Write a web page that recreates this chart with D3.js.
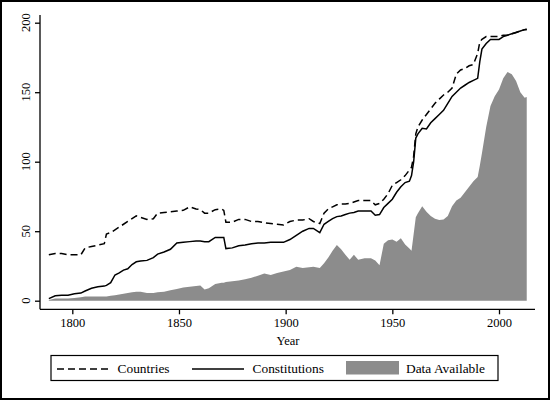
<!DOCTYPE html>
<html>
<head>
<meta charset="utf-8">
<script src="https://cdn.jsdelivr.net/npm/d3@7"></script>
<style>
  body { margin: 0; background: #fff; }
  svg { display: block; }
  text { font-family: "Liberation Serif", "Times New Roman", serif; fill: #000; }
</style>
</head>
<body>
<svg id="chart" width="550" height="400"></svg>
<script>

// values
var years = [1789, 1792, 1795, 1798, 1801, 1804, 1806, 1809, 1812, 1815, 1816, 1818, 1820, 1822,
    1824, 1826, 1828, 1830, 1832, 1835, 1838, 1840, 1843, 1846, 1849, 1852, 1855, 1858, 1860,
    1862, 1864, 1867, 1870, 1871, 1872, 1875, 1878, 1881, 1884, 1887, 1890, 1893, 1896, 1899,
    1902, 1905, 1908, 1911, 1913, 1916, 1918, 1920, 1922, 1924, 1926, 1928, 1930, 1932, 1934,
    1937, 1940, 1942, 1944, 1946, 1948, 1950, 1952, 1954, 1956, 1958, 1959, 1960, 1961, 1962,
    1964, 1966, 1968, 1970, 1972, 1974, 1976, 1978, 1980, 1982, 1984, 1986, 1988, 1990, 1991,
    1992, 1994, 1996, 1998, 2000, 2002, 2004, 2006, 2008, 2010, 2012, 2013];

var countries = [33, 34, 34, 33, 33, 33, 38, 39, 40, 41, 48, 49, 51, 53,
    55, 57, 59, 61, 60, 58.5, 59, 63, 63.5, 64, 64.5, 65, 67.5, 66, 65.5,
    63, 63, 65.5, 66, 65, 56.5, 56.5, 58.5, 58.5, 57, 57, 56, 55.5, 55, 54.5,
    57, 58, 58, 59, 57, 55.5, 63, 66, 67.5, 69, 69.5, 69.5, 70, 71, 72,
    72, 72, 69, 70, 73, 77, 83, 85, 87, 90, 94, 96, 104, 120, 125,
    130, 134, 138, 142, 145, 148, 150, 153, 163, 166, 167, 169, 170, 178, 186,
    188, 190, 190, 190, 190, 191, 191, 192, 193, 194, 195, 195.5];

var constitutions = [1.5, 3.5, 4, 4, 5, 5.5, 7, 9, 10, 10.5, 11, 13, 18.5, 20,
    22, 23, 26, 28, 28.5, 29, 31, 33.5, 35, 37, 41.5, 42, 42.5, 43, 43,
    42.5, 42.5, 45.5, 45.5, 45.5, 37.5, 38, 39.5, 40, 41, 41.5, 41.5, 42, 42, 42,
    44, 47, 50, 52, 52, 49, 55, 57, 59, 60.5, 61, 62, 63, 63.5, 64.5,
    64.5, 64.5, 61.5, 62, 67, 70, 73, 78, 82, 85, 86, 90, 100, 117, 120,
    124, 123.5, 128, 131, 134, 137, 142, 147, 150, 153, 155, 157, 158.5, 160, 172,
    181, 185, 188, 188, 188, 190, 191, 192, 193, 194, 195, 195];

var dataAvailable = [0.5, 1.5, 1.5, 1.5, 2, 2.5, 3, 3, 3, 3, 3, 3.5, 4, 4.5,
    5, 5.5, 6, 6.5, 6.5, 5.5, 5.5, 6, 6.5, 7.5, 8.5, 9.5, 10, 10.5, 11,
    8, 9, 12, 13, 13, 13.5, 14, 14.5, 15.5, 16.5, 18, 19.5, 18.5, 20, 21,
    22, 24.5, 23.5, 24, 24.5, 23.5, 27, 31, 36, 40, 37, 33, 29.5, 33, 29.5,
    30.5, 30.5, 29, 25.5, 41, 43.5, 44, 42.5, 45, 40.5, 37.5, 36, 48, 60, 63,
    68, 64, 61, 59, 58, 58.5, 61, 68, 72, 74, 78, 82, 86, 89, 97,
    106, 125, 140, 147, 152, 160, 164.5, 163, 158, 150, 146, 146.5];

var xTicks = [1800, 1850, 1900, 1950, 2000];
var yTicks = [0, 50, 100, 150, 200];

var seriesNames = ["Countries", "Constitutions", "Data Available"];

var svg = d3.select("#chart");
var grey = "#8c8c8c";

var rows = years.map(function (yr, i) {
    return { year: yr, c: countries[i], k: constitutions[i], d: dataAvailable[i] };
});

var x = d3.scaleLinear().domain([1800, 2000]).range([72.3, 499]);
var y = d3.scaleLinear().domain([0, 200]).range([300.7, 22.7]);

// outer frame
svg.append("rect")
    .attr("x", 1).attr("y", 1)
    .attr("width", 548).attr("height", 398)
    .style("fill", "none")
    .style("stroke", "#000")
    .style("stroke-width", 2);

// grey area first so the lines sit on top
var area = d3.area()
    .x(function (d) { return x(d.year); })
    .y0(y(0))
    .y1(function (d) { return y(d.d); });

svg.append("path")
    .datum(rows)
    .attr("d", area)
    .style("fill", grey);

var lineC = d3.line()
    .x(function (d) { return x(d.year); })
    .y(function (d) { return y(d.c); });

var lineK = d3.line()
    .x(function (d) { return x(d.year); })
    .y(function (d) { return y(d.k); });

svg.append("path")
    .datum(rows)
    .attr("d", lineC)
    .style("fill", "none")
    .style("stroke", "#000")
    .style("stroke-width", 1.5)
    .style("stroke-dasharray", "7,4");

svg.append("path")
    .datum(rows)
    .attr("d", lineK)
    .style("fill", "none")
    .style("stroke", "#000")
    .style("stroke-width", 1.5);

// axes - stata draws them detached from the data, so the domain lines are drawn by hand
var axisY = 309.3, axisX = 40;

var gx = svg.append("g")
    .attr("transform", "translate(0," + axisY + ")")
    .call(d3.axisBottom(x).tickValues(xTicks).tickSize(5).tickPadding(4).tickFormat(d3.format("d")));
gx.select(".domain").remove();
gx.selectAll("line").style("stroke", "#000").style("stroke-width", 1.3);
gx.selectAll("text")
    .style("font-size", "12.5px")
    .style("font-family", "'Liberation Serif', serif");

svg.append("line")
    .attr("x1", axisX).attr("x2", 535)
    .attr("y1", axisY).attr("y2", axisY)
    .style("stroke", "#000").style("stroke-width", 1.3);

var gy = svg.append("g")
    .attr("transform", "translate(" + axisX + ",0)")
    .call(d3.axisLeft(y).tickValues(yTicks).tickSize(5).tickFormat(""));
gy.select(".domain").remove();
gy.selectAll("line").style("stroke", "#000").style("stroke-width", 1.3);

svg.append("line")
    .attr("x1", axisX).attr("x2", axisX)
    .attr("y1", 15).attr("y2", axisY)
    .style("stroke", "#000").style("stroke-width", 1.3);

// rotated y labels
svg.selectAll(".ylab")
    .data(yTicks)
    .enter().append("text")
    .attr("class", "ylab")
    .attr("transform", function (d) { return "translate(29.5," + y(d) + ") rotate(-90)"; })
    .attr("text-anchor", "middle")
    .style("font-size", "12.5px")
    .text(function (d) { return d; });

svg.append("text")
    .attr("x", 288).attr("y", 345)
    .attr("text-anchor", "middle")
    .style("font-size", "12.5px")
    .text("Year");

// legend
var leg = svg.append("g");
leg.append("rect")
    .attr("x", 51).attr("y", 355.5)
    .attr("width", 447).attr("height", 25)
    .style("fill", "#fff")
    .style("stroke", "#000")
    .style("stroke-width", 1.2);

leg.append("line")
    .attr("x1", 57).attr("x2", 109).attr("y1", 369).attr("y2", 369)
    .style("stroke", "#000").style("stroke-width", 1.5).style("stroke-dasharray", "7,4");
leg.append("line")
    .attr("x1", 192).attr("x2", 244).attr("y1", 369).attr("y2", 369)
    .style("stroke", "#000").style("stroke-width", 1.5);
leg.append("rect")
    .attr("x", 346).attr("y", 361).attr("width", 53).attr("height", 13.5)
    .style("fill", grey);

var legX = [117.5, 252.5, 406];
leg.selectAll(".legtxt")
    .data(seriesNames)
    .enter().append("text")
    .attr("class", "legtxt")
    .attr("x", function (d, i) { return legX[i]; })
    .attr("y", 373)
    .style("font-size", "13.4px")
    .text(function (d) { return d; });

</script>
</body>
</html>
